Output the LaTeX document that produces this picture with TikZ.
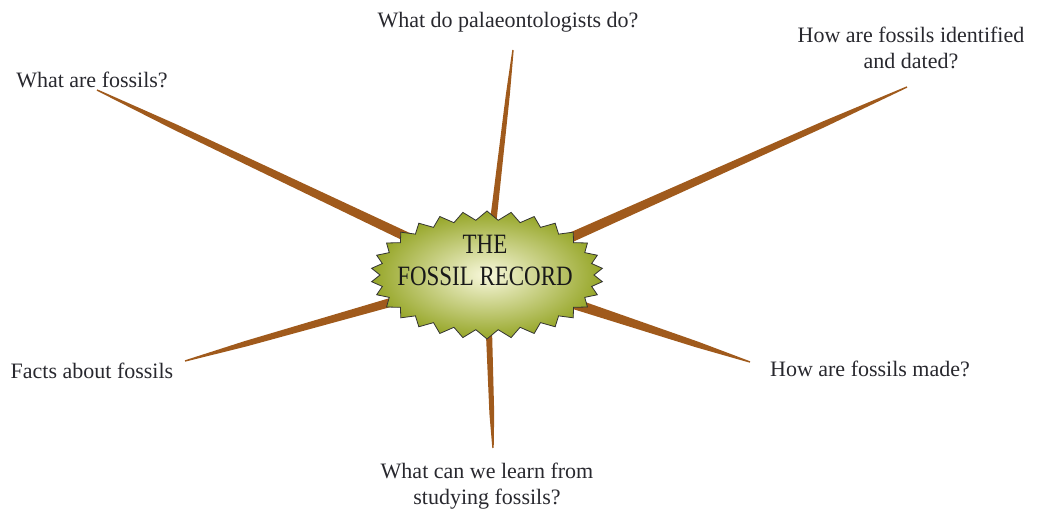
\documentclass[tikz,border=0pt]{standalone}
\usepackage{fontspec}
\setmainfont{Liberation Serif}
\newfontfamily\hubfont[FakeStretch=0.82]{Liberation Serif}
\usetikzlibrary{calc,shapes.symbols}
\definecolor{spokebrown}{RGB}{160,90,28}
\definecolor{burstedge}{RGB}{150,166,40}
\definecolor{burstcore}{RGB}{248,248,220}
\definecolor{inkgrey}{RGB}{40,40,46}
\begin{document}
\begin{tikzpicture}[
  x=1pt, y=-1pt,
  topic/.style={font=\fontsize{22}{26}\selectfont, text=inkgrey, inner sep=0pt, align=center},
  spoke/.style={fill=spokebrown},
  burst/.style={starburst, starburst points=30, starburst point height=9pt, random starburst=0,
    draw=black!80, line width=0.8pt, inner color=burstcore, outer color=burstedge,
    minimum width=232pt, minimum height=128pt},
]
  \useasboundingbox (0,0) rectangle (1037,518);

  % Spoke ends
  \coordinate (hub) at (487,275);
  \coordinate (endWhat) at (97,90);
  \coordinate (endWork) at (513,50);
  \coordinate (endDate) at (907,87);
  \coordinate (endMade) at (750,362);
  \coordinate (endLearn) at (493,448);
  \coordinate (endFacts) at (185,361);

  % Spokes, thick at the hub and tapering at the end
  \foreach \tip/\w/\m in {endWhat/5.5pt/3pt, endWork/3.8pt/2pt, endDate/5.5pt/3pt,
                          endMade/7pt/3pt, endLearn/3.6pt/2.4pt, endFacts/5.5pt/2.8pt} {
    \coordinate (mid) at ($(hub)!0.8!(\tip)$);
    \fill[spoke] ($(hub)!\w!90:(\tip)$) -- ($(mid)!\m!90:(\tip)$) -- ($(\tip)!0.7pt!-90:(hub)$)
      -- ($(\tip)!0.7pt!90:(hub)$) -- ($(mid)!\m!-90:(\tip)$) -- ($(hub)!\w!-90:(\tip)$) -- cycle;
  }

  % Centre
  \node[burst] (record) at (hub) {};
  \node[topic, text=black!90, font=\hubfont\fontsize{28}{32}\selectfont] (title) at (485,260) {THE\\FOSSIL RECORD};

  % Questions
  \node[topic, anchor=base] (qWhat) at (92,88) {What are fossils?};
  \node[topic, anchor=base] (qWork) at (508,28) {What do palaeontologists do?};
  \node[topic, anchor=north] (qDate) at (911,27) {How are fossils identified\\and dated?};
  \node[topic, anchor=base] (qMade) at (870,377) {How are fossils made?};
  \node[topic, anchor=north] (qLearn) at (487,463) {What can we learn from\\studying fossils?};
  \node[topic, anchor=base] (qFacts) at (92,379) {Facts about fossils};

\end{tikzpicture}
\end{document}
